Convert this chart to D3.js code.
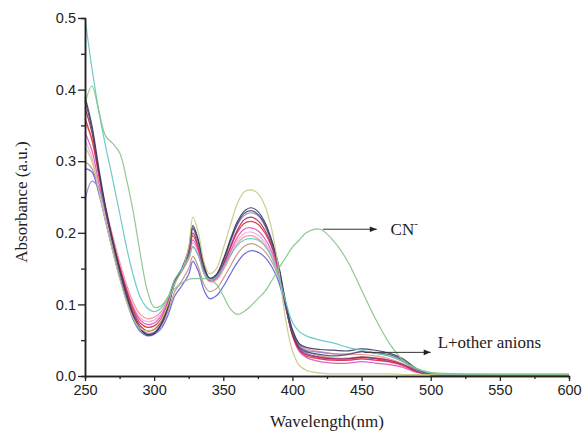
<!DOCTYPE html>
<html>
<head>
<meta charset="utf-8">
<script src="https://cdn.jsdelivr.net/npm/d3@7"></script>
<style>
  body { margin: 0; background: #fff; }
  svg { display: block; }
</style>
</head>
<body>
<svg id="chart"></svg>
<script>
// wavelengths (nm) shared by every spectrum
var wavelengths = [250,255,260,265,270,275,280,285,290,295,300,305,310,315,320,325,328,332,336,340,
                   345,350,355,360,365,370,375,380,385,390,395,400,405,410,420,430,440,450,460,470,
                   480,490,500,520,560,600];

// absorbance values, one array per spectrum
var teal    = [0.5,0.43,0.37,0.32,0.275,0.228,0.18,0.14,0.11,0.095,0.09,0.095,0.11,0.135,0.15,0.165,0.18,0.168,0.145,0.135,
               0.138,0.152,0.168,0.182,0.19,0.192,0.19,0.182,0.166,0.14,0.105,0.075,0.062,0.056,0.05,0.046,0.04,0.036,0.032,0.028,
               0.02,0.01,0.004,0.003,0.003,0.003];
var cyanide = [0.38,0.405,0.37,0.335,0.325,0.312,0.275,0.228,0.17,0.12,0.096,0.098,0.11,0.122,0.13,0.135,0.136,0.136,0.136,0.135,
               0.128,0.112,0.094,0.086,0.09,0.098,0.108,0.118,0.133,0.15,0.165,0.18,0.19,0.2,0.205,0.188,0.16,0.12,0.08,0.046,
               0.022,0.01,0.005,0.003,0.002,0.002];
var olive   = [0.32,0.3,0.258,0.215,0.174,0.136,0.104,0.08,0.066,0.063,0.066,0.078,0.1,0.13,0.147,0.18,0.222,0.2,0.16,0.143,
               0.15,0.178,0.21,0.24,0.257,0.26,0.255,0.238,0.205,0.15,0.08,0.035,0.015,0.008,0.004,0.003,0.003,0.003,0.003,0.003,
               0.002,0.002,0.002,0.002,0.002,0.002];
var navy    = [0.39,0.35,0.29,0.235,0.19,0.15,0.115,0.085,0.066,0.058,0.06,0.072,0.097,0.132,0.15,0.178,0.21,0.19,0.155,0.137,
               0.142,0.163,0.19,0.215,0.23,0.235,0.23,0.215,0.19,0.155,0.105,0.065,0.045,0.04,0.037,0.036,0.035,0.038,0.036,0.032,
               0.024,0.01,0.003,0.002,0.002,0.002];
var grey    = [0.385,0.345,0.285,0.23,0.186,0.147,0.112,0.083,0.065,0.057,0.059,0.071,0.095,0.13,0.148,0.176,0.207,0.188,0.153,0.136,
               0.141,0.161,0.188,0.212,0.227,0.231,0.226,0.212,0.187,0.152,0.1,0.06,0.04,0.034,0.03,0.028,0.03,0.034,0.032,0.03,
               0.022,0.009,0.003,0.002,0.002,0.002];
var maroon  = [0.375,0.34,0.285,0.232,0.188,0.15,0.116,0.088,0.07,0.063,0.065,0.076,0.1,0.132,0.148,0.172,0.2,0.182,0.15,0.135,
               0.139,0.157,0.18,0.203,0.218,0.222,0.217,0.204,0.182,0.15,0.1,0.058,0.038,0.03,0.026,0.024,0.024,0.026,0.025,0.022,
               0.016,0.007,0.002,0.002,0.002,0.002];
var red     = [0.36,0.33,0.28,0.232,0.19,0.153,0.12,0.092,0.074,0.068,0.07,0.08,0.102,0.133,0.148,0.17,0.196,0.178,0.148,0.134,
               0.138,0.155,0.178,0.2,0.213,0.216,0.212,0.2,0.18,0.148,0.1,0.058,0.036,0.028,0.024,0.022,0.022,0.024,0.022,0.02,
               0.015,0.006,0.002,0.002,0.002,0.002];
var magenta = [0.34,0.315,0.27,0.228,0.188,0.153,0.122,0.095,0.078,0.072,0.074,0.084,0.105,0.134,0.148,0.168,0.19,0.175,0.146,0.133,
               0.136,0.152,0.173,0.193,0.205,0.207,0.203,0.192,0.174,0.145,0.098,0.056,0.034,0.026,0.02,0.018,0.018,0.02,0.018,0.016,
               0.012,0.005,0.002,0.002,0.002,0.002];
var pink    = [0.33,0.305,0.262,0.222,0.185,0.152,0.122,0.097,0.081,0.076,0.078,0.087,0.107,0.135,0.148,0.166,0.186,0.172,0.145,0.133,
               0.135,0.15,0.17,0.188,0.199,0.201,0.197,0.187,0.17,0.143,0.098,0.058,0.038,0.03,0.024,0.022,0.022,0.024,0.022,0.019,
               0.014,0.006,0.002,0.002,0.002,0.002];
var salmon  = [0.355,0.33,0.282,0.236,0.196,0.16,0.128,0.102,0.086,0.08,0.082,0.09,0.108,0.134,0.146,0.163,0.181,0.168,0.143,0.132,
               0.134,0.148,0.167,0.184,0.194,0.196,0.192,0.183,0.167,0.142,0.1,0.062,0.044,0.038,0.034,0.031,0.03,0.03,0.028,0.024,
               0.017,0.007,0.002,0.002,0.002,0.002];
var tan     = [0.3,0.29,0.258,0.218,0.178,0.14,0.108,0.082,0.066,0.06,0.061,0.07,0.09,0.118,0.133,0.15,0.167,0.152,0.128,0.118,
               0.122,0.136,0.153,0.17,0.181,0.185,0.182,0.174,0.16,0.138,0.1,0.064,0.044,0.035,0.028,0.025,0.025,0.027,0.025,0.022,
               0.016,0.007,0.002,0.002,0.002,0.002];
var blue    = [0.29,0.285,0.255,0.215,0.175,0.138,0.105,0.078,0.062,0.056,0.058,0.066,0.085,0.112,0.126,0.142,0.16,0.146,0.12,0.108,
               0.112,0.125,0.142,0.158,0.17,0.175,0.173,0.166,0.153,0.132,0.096,0.06,0.04,0.032,0.026,0.024,0.024,0.026,0.024,0.02,
               0.014,0.006,0.002,0.002,0.002,0.002];
var violet  = [0.245,0.272,0.262,0.228,0.186,0.147,0.112,0.084,0.066,0.059,0.061,0.073,0.097,0.13,0.147,0.174,0.205,0.185,0.151,0.135,
               0.14,0.16,0.186,0.21,0.224,0.228,0.224,0.21,0.186,0.151,0.102,0.062,0.042,0.036,0.033,0.031,0.031,0.034,0.032,0.028,
               0.02,0.008,0.002,0.002,0.002,0.002];

var seriesNames  = ['tan','blue','salmon','pink','magenta','red','maroon','violet','grey','navy','olive','teal','cyanide'];
var seriesValues = [tan, blue, salmon, pink, magenta, red, maroon, violet, grey, navy, olive, teal, cyanide];
var seriesColors = ['#c49078','#5a5ae6','#f08c8c','#f2a6dc','#dc52c0','#e6283c','#a8284c','#8c7ee0','#4c4c5c','#383860','#c8c882','#5ec8c0','#84c286'];

var xTicks = [250,300,350,400,450,500,550,600];
var xMinor = [275,325,375,425,475,525,575];
var yTicks = [0,0.1,0.2,0.3,0.4,0.5];
var yMinor = [0.05,0.15,0.25,0.35,0.45];

var margin = {left: 85, top: 18, right: 15, bottom: 55};
var width = 584, height = 431;
var plotW = width - margin.left - margin.right;   // 484
var plotH = height - margin.top - margin.bottom;  // 358

var svg = d3.select('#chart')
    .attr('width', width)
    .attr('height', height);

var xScale = d3.scaleLinear().domain([250, 600]).range([0, plotW]);
var yScale = d3.scaleLinear().domain([0, 0.5]).range([plotH, 0]);

var g = svg.append('g')
    .attr('transform', 'translate(' + margin.left + ',' + margin.top + ')');

var line = d3.line()
    .x(function(d, i) { return xScale(wavelengths[i]); })
    .y(function(d) { return yScale(d); })
    .curve(d3.curveCatmullRom.alpha(0.5));

g.selectAll('path.spec')
  .data(seriesValues)
  .enter()
  .append('path')
    .attr('class', 'spec')
    .attr('d', line)
    .style('fill', 'none')
    .style('stroke', function(d, i) { return seriesColors[i]; })
    .style('stroke-width', '1.2px')
    .style('opacity', 0.9);

// axes
var xAxis = d3.axisBottom(xScale).tickValues(xTicks).tickSize(5).tickSizeOuter(0).tickPadding(4);
var xAxisMinor = d3.axisBottom(xScale).tickValues(xMinor).tickSize(3).tickFormat('');
var yAxis = d3.axisLeft(yScale).tickValues(yTicks).tickSize(7).tickSizeOuter(0).tickPadding(2)
    .tickFormat(d3.format('.1f'));
var yAxisMinor = d3.axisLeft(yScale).tickValues(yMinor).tickSize(4).tickFormat('');

var gx = g.append('g').attr('transform', 'translate(0,' + plotH + ')').call(xAxis);
g.append('g').attr('transform', 'translate(0,' + plotH + ')').call(xAxisMinor);
var gy = g.append('g').call(yAxis);
g.append('g').call(yAxisMinor);

g.selectAll('.domain').style('stroke', '#222').style('stroke-width', '1.5px');
g.selectAll('.tick line').style('stroke', '#222').style('stroke-width', '1.3px');
g.selectAll('.tick text')
    .style('font-family', '"Liberation Sans", Arial, sans-serif')
    .style('font-size', '14.5px')
    .style('fill', '#222');

// axis titles
svg.append('text')
    .attr('x', margin.left + plotW / 2)
    .attr('y', 427)
    .attr('text-anchor', 'middle')
    .style('font-family', '"Liberation Serif", "Times New Roman", serif')
    .style('font-size', '17px')
    .style('fill', '#222')
    .text('Wavelength(nm)');

svg.append('text')
    .attr('transform', 'translate(27,' + 202 + ') rotate(-90)')
    .attr('text-anchor', 'middle')
    .style('font-family', '"Liberation Serif", "Times New Roman", serif')
    .style('font-size', '17px')
    .style('fill', '#222')
    .text('Absorbance (a.u.)');

// annotations
svg.append('defs').append('marker')
    .attr('id', 'arrow')
    .attr('viewBox', '0 0 10 10')
    .attr('refX', 10).attr('refY', 5)
    .attr('markerWidth', 9).attr('markerHeight', 7)
    .attr('orient', 'auto')
  .append('path')
    .attr('d', 'M0,1 L10,5 L0,9 Z')
    .style('fill', '#222');

g.append('line')
    .attr('x1', xScale(422)).attr('y1', yScale(0.205))
    .attr('x2', xScale(461)).attr('y2', yScale(0.205))
    .style('stroke', '#333').style('stroke-width', '1px')
    .attr('marker-end', 'url(#arrow)');

var cn = g.append('text')
    .attr('x', xScale(471)).attr('y', yScale(0.205) + 6)
    .style('font-family', '"Liberation Serif", "Times New Roman", serif')
    .style('font-size', '17px')
    .style('fill', '#222')
    .text('CN');
cn.append('tspan').attr('dy', -8).style('font-size', '11px').text('-');

g.append('line')
    .attr('x1', xScale(452)).attr('y1', yScale(0.033))
    .attr('x2', xScale(500)).attr('y2', yScale(0.033))
    .style('stroke', '#333').style('stroke-width', '1px')
    .attr('marker-end', 'url(#arrow)');

g.append('text')
    .attr('x', xScale(505)).attr('y', yScale(0.033) - 4)
    .style('font-family', '"Liberation Serif", "Times New Roman", serif')
    .style('font-size', '17px')
    .style('fill', '#222')
    .text('L+other anions');
</script>
</body>
</html>
